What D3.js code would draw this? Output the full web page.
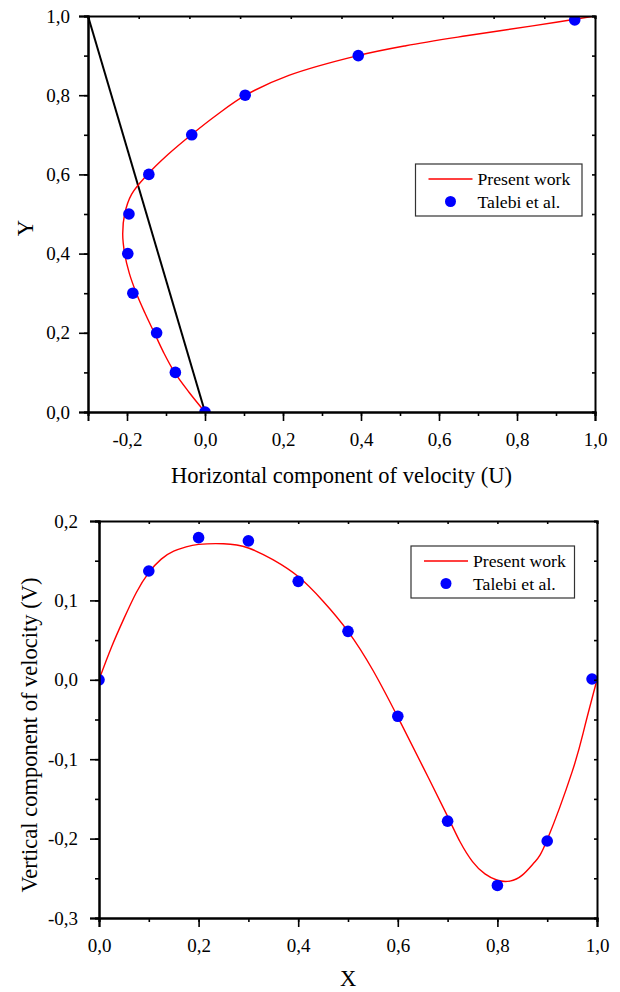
<!DOCTYPE html>
<html>
<head>
<meta charset="utf-8">
<script src="https://cdn.jsdelivr.net/npm/d3@7/dist/d3.min.js"></script>
<style>
  html, body { margin: 0; padding: 0; background: #fff; }
  svg { display: block; }
  text { font-family: "Liberation Serif", "Times New Roman", serif; fill: #000; }
</style>
</head>
<body>
<svg id="chart" width="620" height="992"></svg>
<script>
// ---------- Data: top chart (U along vertical centreline) ----------
const uCurveY = [0, 0.05, 0.1, 0.15, 0.2, 0.25, 0.3, 0.35, 0.4, 0.45, 0.5, 0.55, 0.6, 0.65, 0.7, 0.75, 0.8, 0.85, 0.9, 0.925, 0.95, 0.975, 1.0];
const uCurveU = [0, -0.041, -0.078, -0.106, -0.130, -0.154, -0.176, -0.194, -0.206, -0.211, -0.206, -0.188, -0.147, -0.095, -0.035, 0.030, 0.104, 0.215, 0.392, 0.515, 0.670, 0.840, 1.0];
const uTalebiU = [0, -0.076, -0.124, -0.185, -0.198, -0.195, -0.144, -0.034, 0.103, 0.393, 0.948];
const uTalebiY = [0, 0.1, 0.2, 0.3, 0.4, 0.5, 0.6, 0.7, 0.8, 0.9, 0.99];
const refLineU = [-0.3, 0.0];
const refLineY = [1.0, 0.0];
const topXTicks = [-0.2, 0.0, 0.2, 0.4, 0.6, 0.8, 1.0];
const topYTicks = [0.0, 0.2, 0.4, 0.6, 0.8, 1.0];

// ---------- Data: bottom chart (V along horizontal centreline) ----------
const vCurveX = [0, 0.025, 0.05, 0.075, 0.1, 0.125, 0.15, 0.175, 0.2, 0.25, 0.3, 0.35, 0.4, 0.45, 0.5, 0.55, 0.6, 0.65, 0.7, 0.725, 0.75, 0.775, 0.8, 0.825, 0.85, 0.875, 0.9, 0.95, 0.975, 1.0];
const vCurveV = [0, 0.041, 0.077, 0.110, 0.135, 0.152, 0.162, 0.1675, 0.1705, 0.1713, 0.166, 0.151, 0.130, 0.099, 0.061, 0.012, -0.047, -0.109, -0.172, -0.204, -0.229, -0.2445, -0.2525, -0.2535, -0.246, -0.2295, -0.2015, -0.116, -0.060, 0];
const vTalebiX = [0, 0.1, 0.2, 0.3, 0.4, 0.5, 0.6, 0.7, 0.8, 0.9, 0.99];
const vTalebiV = [0, 0.137, 0.179, 0.175, 0.124, 0.061, -0.046, -0.178, -0.259, -0.203, 0.001];
const botXTicks = [0.0, 0.2, 0.4, 0.6, 0.8, 1.0];
const botYTicks = [-0.3, -0.2, -0.1, 0.0, 0.1, 0.2];

const legendLabels = ["Present work", "Talebi et al."];

// ---------- Drawing ----------
const svg = d3.select("#chart");
const FONT = '"Liberation Serif", "Times New Roman", serif';
const fmt = v => d3.format(".1f")(v).replace("\u2212", "-").replace(".", ",");

function panel(cfg) {
  const g = svg.append("g");
  const x = d3.scaleLinear().domain(cfg.xDomain).range([cfg.L, cfg.R]);
  const y = d3.scaleLinear().domain(cfg.yDomain).range([cfg.B, cfg.T]);

  const clipId = "clip" + cfg.id;
  svg.append("clipPath").attr("id", clipId)
    .append("rect").attr("x", cfg.L).attr("y", cfg.T)
    .attr("width", cfg.R - cfg.L).attr("height", cfg.B - cfg.T);

  const plot = g.append("g").attr("clip-path", `url(#${clipId})`);

  if (cfg.refX) {
    plot.append("path")
      .datum(cfg.refX.map((d, i) => [d, cfg.refY[i]]))
      .attr("d", d3.line().x(d => x(d[0])).y(d => y(d[1])))
      .attr("fill", "none").attr("stroke", "#000").attr("stroke-width", 2);
  }

  plot.append("path")
    .datum(cfg.cx.map((d, i) => [d, cfg.cy[i]]))
    .attr("d", d3.line().x(d => x(d[0])).y(d => y(d[1])).curve(cfg.curve))
    .attr("fill", "none").attr("stroke", "#ff0000").attr("stroke-width", 1.4);

  plot.selectAll("circle.pt")
    .data(cfg.px.map((d, i) => [d, cfg.py[i]]))
    .join("circle").attr("class", "pt")
    .attr("cx", d => x(d[0])).attr("cy", d => y(d[1]))
    .attr("r", 5.8).attr("fill", "#0000ff");

  const xMinor = d3.range(cfg.xDomain[0], cfg.xDomain[1] + 1e-9, cfg.xMinorStep);
  const yMinor = d3.range(cfg.yDomain[0], cfg.yDomain[1] + 1e-9, cfg.yMinorStep);

  const bx = g.append("g").attr("transform", `translate(0,${cfg.B})`)
    .call(d3.axisBottom(x).tickValues(xMinor).tickSize(4).tickFormat(""));
  const bx2 = g.append("g").attr("transform", `translate(0,${cfg.B})`)
    .call(d3.axisBottom(x).tickValues(cfg.xTicks).tickSize(9).tickPadding(12).tickFormat(fmt));
  const ly = g.append("g").attr("transform", `translate(${cfg.L},0)`)
    .call(d3.axisLeft(y).tickValues(yMinor).tickSize(4).tickFormat(""));
  const ly2 = g.append("g").attr("transform", `translate(${cfg.L},0)`)
    .call(d3.axisLeft(y).tickValues(cfg.yTicks).tickSize(9).tickPadding(cfg.yPad).tickFormat(fmt));

  const topScale = d3.scaleLinear().domain([0, 1]).range([cfg.L, cfg.R]);
  const tx = g.append("g").attr("transform", `translate(0,${cfg.T})`)
    .call(d3.axisTop(topScale).tickValues(d3.range(0, 1.0001, 0.1)).tickSize(-3).tickFormat(""));
  const ry = g.append("g").attr("transform", `translate(${cfg.R},0)`)
    .call(d3.axisRight(y).tickValues(yMinor).tickSize(-3).tickFormat(""));

  [bx, bx2, ly, ly2, tx, ry].forEach(a => {
    a.attr("font-family", FONT).attr("font-size", 19);
    a.select(".domain").attr("stroke", "#000").attr("stroke-width", 2);
    a.selectAll(".tick line").attr("stroke", "#000").attr("stroke-width", 1.6);
    a.selectAll("text").attr("font-size", 19).attr("font-family", FONT).attr("fill", "#000");
  });

  const lg = g.append("g");
  lg.append("rect").attr("x", cfg.lgX).attr("y", cfg.lgY).attr("width", cfg.lgW).attr("height", cfg.lgH)
    .attr("fill", "#fff").attr("stroke", "#333").attr("stroke-width", 1.2);
  lg.append("line").attr("x1", cfg.lgX + 13).attr("x2", cfg.lgX + 57)
    .attr("y1", cfg.lgY + 15).attr("y2", cfg.lgY + 15)
    .attr("stroke", "#ff0000").attr("stroke-width", 1.4);
  lg.append("circle").attr("cx", cfg.lgX + 35).attr("cy", cfg.lgY + 37.5).attr("r", 5.5).attr("fill", "#0000ff");
  lg.selectAll("text.lg").data(legendLabels).join("text").attr("class", "lg")
    .attr("x", cfg.lgX + 62).attr("y", (d, i) => cfg.lgY + 21 + i * 22.5)
    .attr("font-family", FONT).attr("font-size", 17.7).text(d => d);

  g.append("text").attr("x", (cfg.L + cfg.R) / 2).attr("y", cfg.xtY)
    .attr("text-anchor", "middle").attr("font-family", FONT).attr("font-size", 22.5).text(cfg.xTitle);
  g.append("text").attr("transform", `translate(${cfg.ytX},${cfg.ytY}) rotate(-90)`)
    .attr("text-anchor", "middle").attr("font-family", FONT).attr("font-size", 22.5).text(cfg.yTitle);
}

panel({
  id: "top", L: 88, R: 595, T: 16, B: 412,
  xDomain: [-0.3, 1.0], yDomain: [0, 1],
  xMinorStep: 0.1, yMinorStep: 0.1,
  xTicks: topXTicks, yTicks: topYTicks, yPad: 9,
  cx: uCurveU, cy: uCurveY, px: uTalebiU, py: uTalebiY,
  curve: d3.curveCatmullRom.alpha(0.5),
  refX: refLineU, refY: refLineY,
  lgX: 415.5, lgY: 164, lgW: 166.5, lgH: 52,
  xTitle: "Horizontal component of velocity (U)", xtY: 483,
  yTitle: "Y", ytX: 33, ytY: 228
});

panel({
  id: "bot", L: 99, R: 597, T: 521, B: 918,
  xDomain: [0, 1], yDomain: [-0.3, 0.2],
  xMinorStep: 0.1, yMinorStep: 0.05,
  xTicks: botXTicks, yTicks: botYTicks, yPad: 12,
  cx: vCurveX, cy: vCurveV, px: vTalebiX, py: vTalebiV,
  curve: d3.curveNatural,
  lgX: 411, lgY: 546, lgW: 163.5, lgH: 52,
  xTitle: "X", xtY: 986,
  yTitle: "Vertical component of velocity (V)", ytX: 37, ytY: 735
});
</script>
</body>
</html>
